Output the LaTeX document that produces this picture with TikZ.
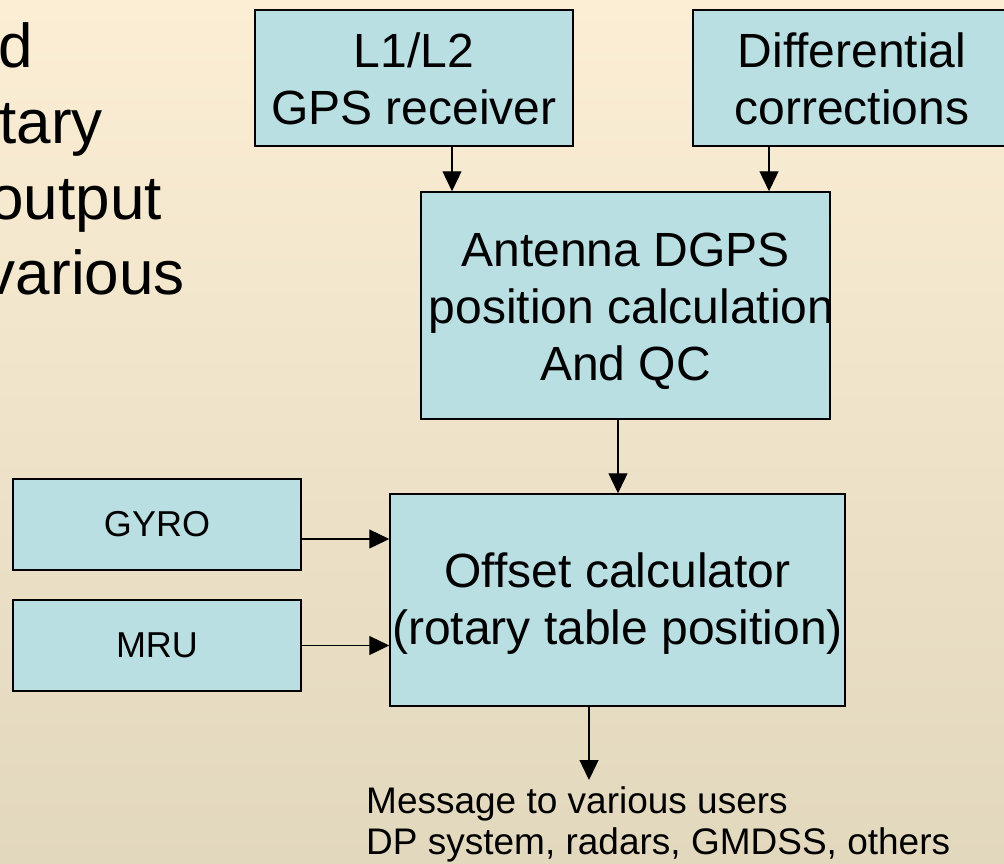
\documentclass[tikz,border=0pt]{standalone}
\usepackage{fontspec}
\setmainfont{Liberation Sans}
\usetikzlibrary{arrows.meta}
\definecolor{bgtop}{HTML}{FBEED5}
\definecolor{bgbot}{HTML}{E2D8BD}
\definecolor{boxfill}{HTML}{B9DFE3}
\newcommand{\boxtext}[3]{\makebox[0pt]{\hspace*{#1}\raisebox{#2}[\height][\depth]{\begin{tabular}{@{}c@{}}#3\end{tabular}}}}
\begin{document}
\begin{tikzpicture}[x=1pt,y=-1pt,
  blk/.style={draw=black, line width=1.5pt, fill=boxfill, inner sep=0pt, font=\fontsize{48}{57}\selectfont},
  sblk/.style={blk, font=\fontsize{36}{43}\selectfont},
  frag/.style={anchor=base east, inner sep=0pt, font=\fontsize{62}{75}\selectfont},
  arr/.style={line width=1.3pt, -{Triangle[length=20pt,width=19pt]}}]
\useasboundingbox (0,0) rectangle (1004,863);
\clip (0,0) rectangle (1004,863);
\shade[top color=bgtop, bottom color=bgbot] (0,0) rectangle (1004,863);
% clipped slide text on the left
\node[frag] (f1) at (33,67) {d};
\node[frag] (f2) at (103,143) {tary};
\node[frag] (f3) at (162,219) {output};
\node[frag] (f4) at (185,294) {various};
% boxes
\node[blk, minimum width=318pt, minimum height=136pt] (gps) at (414,78) {\boxtext{0pt}{-7pt}{L1/L2\\GPS receiver}};
\node[blk, minimum width=318pt, minimum height=136pt] (diff) at (852,78) {\boxtext{0pt}{-7pt}{Differential\\corrections}};
\node[blk, minimum width=409pt, minimum height=227pt] (ant) at (625.5,305.5) {\boxtext{0pt}{-7pt}{Antenna DGPS\\\hspace*{12pt}position calculation\\And QC}};
\node[blk, minimum width=455pt, minimum height=212pt] (off) at (617.5,600) {\boxtext{0pt}{-5pt}{Offset calculator\\(rotary table position)}};
\node[sblk, minimum width=288pt, minimum height=91pt] (gyro) at (157,524.5) {GYRO};
\node[sblk, minimum width=288pt, minimum height=91pt] (mru) at (157,645.5) {MRU};
\coordinate (outtip) at (589,780);
\node[anchor=north west, inner sep=0pt, align=left, font=\fontsize{37}{41}\selectfont] (msg) at (366,786) {Message to various users\\DP system, radars, GMDSS, others};
% connectors
\draw[arr] ([xshift=38pt]gps.south) -- ([xshift=38pt]gps.south |- ant.north);
\draw[arr] ([xshift=-83pt]diff.south) -- ([xshift=-83pt]diff.south |- ant.north);
\draw[arr] ([xshift=-7.5pt]ant.south) -- ([xshift=-7.5pt]ant.south |- off.north);
\draw[arr] ([yshift=-14.5pt]gyro.east) -- ([yshift=-14.5pt]gyro.east -| off.west);
\draw[arr] (mru.east) -- (mru.east -| off.west);
\draw[arr] (off.south -| outtip) -- (outtip);
\end{tikzpicture}
\end{document}
